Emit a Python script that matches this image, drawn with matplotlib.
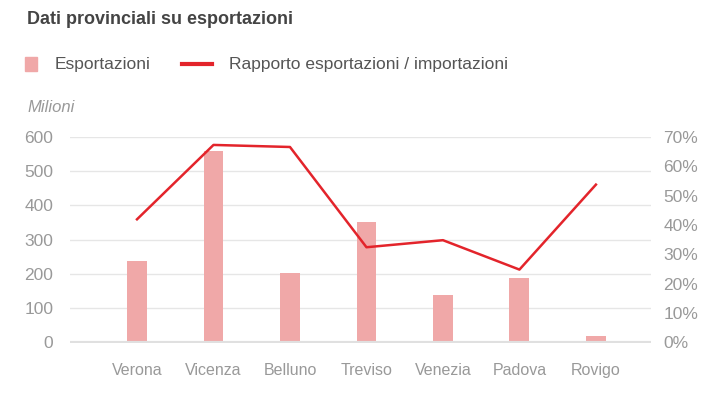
import matplotlib
matplotlib.use("Agg")
import matplotlib.pyplot as plt
from matplotlib.patches import Rectangle
from matplotlib.lines import Line2D
import numpy as np

plt.rcParams['font.family'] = ['Liberation Sans', 'DejaVu Sans']

categories = ["Verona", "Vicenza", "Belluno", "Treviso", "Venezia", "Padova", "Rovigo"]
esportazioni = [238, 558, 202, 351, 138, 188, 20]
rapporto = [41.9, 67.2, 66.5, 32.4, 34.8, 24.8, 53.7]
left_ticks = [0, 100, 200, 300, 400, 500, 600]
right_ticks = [0, 10, 20, 30, 40, 50, 60, 70]

bar_color = "#f0a8a8"
line_color = "#e3242b"
tick_color = "#999999"
grid_color = "#e6e6e6"

fig = plt.figure(figsize=(7.24, 3.93), dpi=100)
ax = fig.add_axes([70/724, 1-342.5/393, (651-70)/724, (342.5-136.7)/393])
x = np.arange(len(categories))

ax.bar(x, esportazioni, width=0.26, color=bar_color, zorder=2)
ax.set_ylim(0, 600)
ax.set_xlim(-0.876, 6.72)
ax.set_yticks(left_ticks)
ax.set_yticklabels([str(t) for t in left_ticks])
for t in left_ticks[1:]:
    ax.axhline(t, color=grid_color, lw=1, zorder=1)
ax.axhline(0, color="#e0e0e0", lw=3, zorder=3)
for s in ax.spines.values():
    s.set_visible(False)
ax.tick_params(axis='y', length=0, pad=12, labelsize=12.5, labelcolor=tick_color)
ax.set_xticks(x)
ax.set_xticklabels(categories)
ax.tick_params(axis='x', length=0, pad=15, labelsize=11.5, labelcolor=tick_color)

ax2 = ax.twinx()
ax2.plot(x, rapporto, color=line_color, lw=1.8, zorder=4)
ax2.set_ylim(0, 70)
ax2.set_yticks(right_ticks)
ax2.set_yticklabels([f"{t}%" for t in right_ticks])
for s in ax2.spines.values():
    s.set_visible(False)
ax2.tick_params(axis='y', length=0, pad=9, labelsize=12.5, labelcolor=tick_color)

fig.text(27/724, 1-20/393, "Dati provinciali su esportazioni", fontsize=13,
         fontweight='bold', color="#444444", va='center', ha='left')
fig.patches.append(Rectangle((25/724, 1-70.5/393), 12/724, 13/393, transform=fig.transFigure,
                             color=bar_color, figure=fig))
fig.text(55/724, 1-64/393, "Esportazioni", fontsize=12.5, color="#555555", va='center', ha='left')
fig.lines.append(Line2D([182/724, 212/724], [1-64/393, 1-64/393], transform=fig.transFigure,
                        color=line_color, lw=3, figure=fig))
fig.text(229/724, 1-64/393, "Rapporto esportazioni / importazioni", fontsize=12.5,
         color="#555555", va='center', ha='left')
fig.text(27/724, 1-108/393, "Milioni", fontsize=12, style='italic', color=tick_color,
         va='center', ha='left')

fig.savefig("out.png", dpi=100)
